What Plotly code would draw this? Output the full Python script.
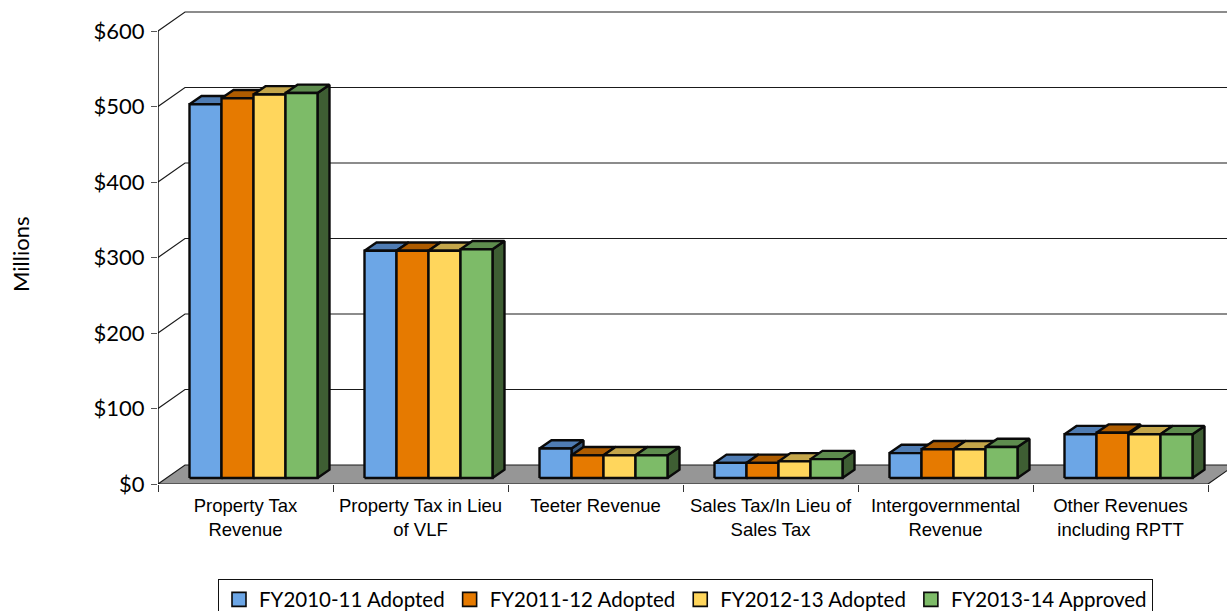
import plotly.graph_objects as go

categories = ["Property Tax<br>Revenue", "Property Tax in Lieu<br>of VLF", "Teeter Revenue",
              "Sales Tax/In Lieu of<br>Sales Tax", "Intergovernmental<br>Revenue", "Other Revenues<br>including RPTT"]
series_names = ["FY2010-11 Adopted", "FY2011-12 Adopted", "FY2012-13 Adopted", "FY2013-14 Approved"]
fy2010 = [495, 301, 39, 20, 33, 58]
fy2011 = [503, 301, 30, 20, 38, 60]
fy2012 = [508, 301, 30, 22, 38, 58]
fy2013 = [510, 303, 30, 25, 41, 58]
y_ticks = [0, 100, 200, 300, 400, 500, 600]
y_labels = ["$0", "$100", "$200", "$300", "$400", "$500", "$600"]

front_colors = ["#6CA6E6", "#E67A00", "#FFD65C", "#7DBB68"]
top_colors = ["#4F7CB3", "#AE5C00", "#C4A64A", "#5E8C4E"]
side_colors = ["#37587F", "#7C4200", "#8C7634", "#3E5E33"]
INK = "#0a0a0a"

# geometry in axis units (1 x unit = one category = 175 px, 1 y unit = 0.755 px)
WALL_DX, WALL_DY = 27 / 175, 19 / 0.755
BAR_DX, BAR_DY = 12 / 175, 8.3 / 0.755
BAR_W = 32 / 175
BAR_PAD = 31.5 / 175
BAR_BASE = 6 / 0.755
N = len(categories)
X_MAX, Y_MAX = (1227 - 158) / 175, 484 / 0.755

fig = go.Figure()


def poly(xs, ys, fill, width=2.4, color=INK):
    fig.add_trace(go.Scatter(x=xs, y=ys, mode="lines", fill="toself", fillcolor=fill,
                             line=dict(color=color, width=width), showlegend=False, hoverinfo="skip"))


def line(xs, ys, color="#1a1a1a", width=1.2):
    fig.add_trace(go.Scatter(x=xs, y=ys, mode="lines", line=dict(color=color, width=width),
                             showlegend=False, hoverinfo="skip", cliponaxis=False))


# wall grid
for t in y_ticks[1:]:
    line([0, WALL_DX, X_MAX], [t, t + WALL_DY, t + WALL_DY])
# floor
poly([0, WALL_DX, N + WALL_DX, N, 0], [0, WALL_DY, WALL_DY, 0, 0], "#969696", width=1.2, color="#1a1a1a")
# y axis spine
line([0, 0], [0, 600], color="#000000", width=1.4)

# bars
for s, vals in enumerate([fy2010, fy2011, fy2012, fy2013]):
    for c, v in enumerate(vals):
        x0 = c + BAR_PAD + s * BAR_W
        x1 = x0 + BAR_W
        y0, y1 = BAR_BASE, BAR_BASE + v
        poly([x1, x1 + BAR_DX, x1 + BAR_DX, x1, x1],
             [y0, y0 + BAR_DY, y1 + BAR_DY, y1, y0], side_colors[s])
        poly([x0, x0 + BAR_DX, x1 + BAR_DX, x1, x0],
             [y1, y1 + BAR_DY, y1 + BAR_DY, y1, y1], top_colors[s])
        poly([x0, x1, x1, x0, x0], [y0, y0, y1, y1, y0], front_colors[s])

# legend entries
for s, name in enumerate(series_names):
    fig.add_trace(go.Scatter(x=[None], y=[None], mode="markers", name=name,
                             marker=dict(symbol="square", size=14, color=front_colors[s],
                                         line=dict(color=INK, width=1.6))))

fig.update_layout(
    width=1227, height=611, autosize=False,
    margin=dict(l=158, r=0, t=0, b=127),
    paper_bgcolor="white", plot_bgcolor="white",
    font=dict(family="Lato", color="#000000"),
    showlegend=True,
    legend=dict(orientation="h", x=218 / 1227, xref="container", y=1 - 578.5 / 611, yref="container",
                xanchor="left", yanchor="top", bordercolor="#111111", borderwidth=1,
                font=dict(family="Lato", size=20.5),
                traceorder="normal", itemclick=False),
    xaxis=dict(range=[0, X_MAX], showgrid=False, zeroline=False, showline=False,
               tickmode="array", tickvals=[i + 0.5 for i in range(N)], ticktext=categories,
               ticks="outside", ticklen=5, tickwidth=0, tickcolor="rgba(0,0,0,0)", tickangle=0,
               tickfont=dict(family="Liberation Sans", size=18.5),
               minor=dict(tickmode="array", tickvals=list(range(N + 1)), ticks="outside",
                          ticklen=7, tickwidth=1, tickcolor="#333333", showgrid=False)),
    yaxis=dict(range=[0, Y_MAX], showgrid=False, zeroline=False, showline=False,
               tickmode="array", tickvals=y_ticks, ticktext=y_labels,
               ticks="outside", ticklen=6, tickwidth=1, tickcolor="#555555",
               ticklabelstandoff=2,
               tickfont=dict(family="Lato", size=22)),
    annotations=[dict(text="Millions", textangle=-90, showarrow=False, font=dict(family="Lato", size=22),
                      xref="paper", yref="paper", x=(20 - 158) / 1069, y=(484 - 255) / 484,
                      xanchor="center", yanchor="middle")],
)

fig.write_html("out.html", post_script="document.body.style.margin='0';", config={"displayModeBar": False})
